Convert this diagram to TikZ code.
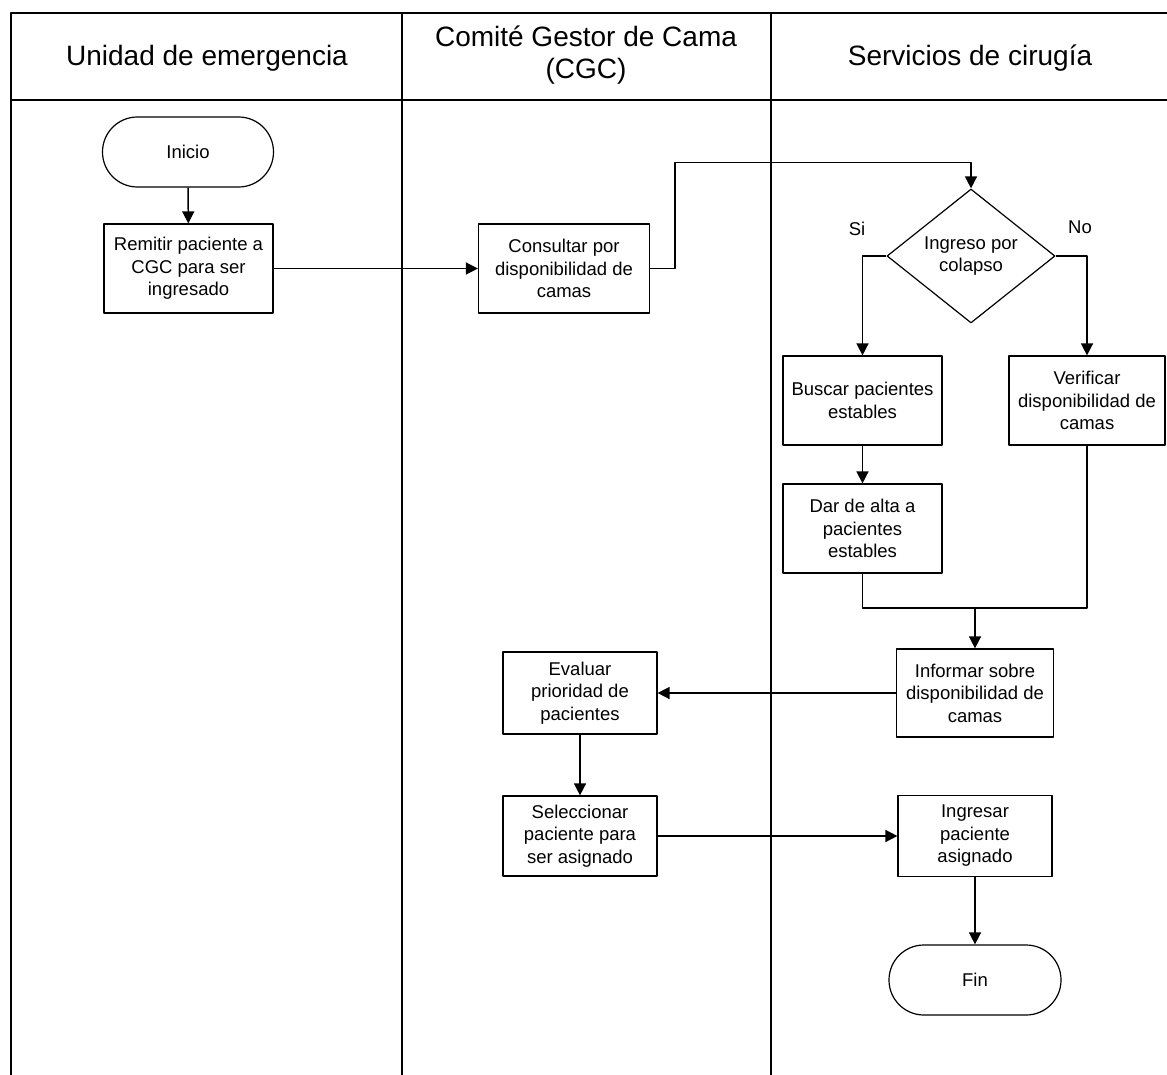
\documentclass[tikz,border=0pt]{standalone}
\usepackage{fontspec}
\setmainfont{Liberation Sans}
\usetikzlibrary{arrows.meta,shapes.geometric}
\tikzset{>={Triangle[length=12pt,width=12pt]}}
\tikzset{caja/.style={draw, line width=1.2pt, align=center, inner sep=2pt, font=\fontsize{18.5}{22.5}\selectfont},
  terminal/.style={caja, rounded corners=34.9pt, minimum width=171pt, minimum height=70pt},
  decision/.style={caja, diamond, aspect=1.25, inner sep=0pt, minimum width=168pt, minimum height=134pt},
  cabecera/.style={align=center, font=\fontsize{28}{32}\selectfont},
  rotulo/.style={font=\fontsize{18.5}{22.5}\selectfont},
  flecha/.style={->, line width=1.5pt}}

\begin{document}
\begin{tikzpicture}[x=1pt, y=-1pt, line join=round]
    \useasboundingbox (0,0) rectangle (1167,1075);
    \draw[line width=1.8pt] (11,1075) -- (11,13) -- (1167,13) (11,100) -- (1167,100) (402,13) -- (402,1075) (771,13) -- (771,1075);
    \node[cabecera] (unidad) at (207,58) {Unidad de emergencia};
    \node[cabecera] (comite) at (586,55) {Comité Gestor de Cama\\(CGC)};
    \node[cabecera] (servicios) at (970,58) {Servicios de cirugía};

    \node[terminal] (inicio) at (188,152) {Inicio};
    \node[caja, minimum width=169pt, minimum height=89pt] (remitir) at (188.5,268.5) {Remitir paciente a\\CGC para ser\\ingresado};
    \node[caja, minimum width=171pt, minimum height=89pt] (consultar) at (564,268.5) {Consultar por\\disponibilidad de\\camas};
    \node[decision] (ingreso) at (971,256) {Ingreso por\\colapso};
    \node[rotulo] (si) at (857,229) {Si};
    \node[rotulo] (no) at (1080,227) {No};
    \node[caja, minimum width=159pt, minimum height=89pt] (buscar) at (862.5,400.5) {Buscar pacientes\\estables};
    \node[caja, minimum width=156pt, minimum height=89pt] (verificar) at (1087,400.5) {Verificar\\disponibilidad de\\camas};
    \node[caja, minimum width=159pt, minimum height=89pt] (alta) at (862.5,528.5) {Dar de alta a\\pacientes\\estables};
    \coordinate (junta) at (975,608);
    \node[caja, minimum width=157pt, minimum height=88pt] (informar) at (975,693) {Informar sobre\\disponibilidad de\\camas};
    \node[caja, minimum width=154pt, minimum height=82pt] (evaluar) at (580,693) {Evaluar\\prioridad de\\pacientes};
    \node[caja, minimum width=154pt, minimum height=80pt] (seleccionar) at (580,836) {Seleccionar\\paciente para\\ser asignado};
    \node[caja, minimum width=154pt, minimum height=81pt] (ingresar) at (975,836) {Ingresar\\paciente\\asignado};
    \node[terminal, minimum width=172pt] (fin) at (975,980) {Fin};

    \draw[flecha] (inicio) -- (remitir);
    \draw[flecha] (remitir) -- (consultar);
    \draw[flecha] (consultar.east) -- ++(25,0) |- ([yshift=26pt]ingreso.north) -- (ingreso.north);
    \draw[flecha] (ingreso.west) -| (buscar.north);
    \draw[flecha] (ingreso.east) -| (verificar.north);
    \draw[flecha] (buscar) -- (alta);
    \draw[line width=1.5pt] (alta.south) |- (junta) -| (verificar.south);
    \draw[flecha] (junta) -- (informar);
    \draw[flecha] (informar) -- (evaluar);
    \draw[flecha] (evaluar) -- (seleccionar);
    \draw[flecha] (seleccionar) -- (ingresar);
    \draw[flecha] (ingresar) -- (fin);
\end{tikzpicture}
\end{document}
